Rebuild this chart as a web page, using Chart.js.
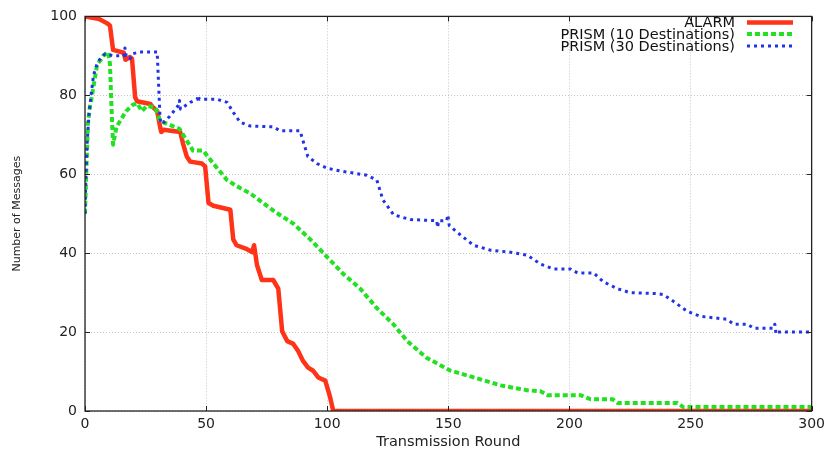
<!DOCTYPE html>
<html>
<head>
<meta charset="utf-8">
<script src="https://cdn.jsdelivr.net/npm/chart.js@4/dist/chart.umd.min.js"></script>
<style>
    body { margin: 0; background: #fff; }
    #wrap { width: 830px; height: 454px; }
</style>
</head>
<body>
<div id="wrap"><canvas id="msgChart" width="830" height="454"></canvas></div>
<script>
// ---------- DATA ----------
const xTicks = [0, 50, 100, 150, 200, 250, 300];
const yTicks = [0, 20, 40, 60, 80, 100];

const seriesNames = ["ALARM", "PRISM (10 Destinations)", "PRISM (30 Destinations)"];

const alarmX = [0, 6, 9, 10.3, 11.6, 16, 16.7, 18.6, 19.4, 20.7, 21.5, 27, 28, 29.8, 31, 31.5, 32.5, 39.3, 40.5, 42,
    43.4, 48.3, 49.6, 51, 53, 60, 61.2, 62.6, 66.9, 69, 69.8, 71, 73, 77.7, 79.8, 81.4, 83.5, 86, 88, 90,
    92.1, 94.2, 96.3, 99.2, 101.2, 102.5, 300];
const alarmY = [100, 99.3, 98.3, 97.7, 91.5, 90.8, 89, 89.7, 89.3, 79.5, 78.5, 77.8, 77, 76, 72, 70.7, 71.3, 70.7, 67.7, 64.5,
    63.2, 62.7, 62, 52.7, 52, 51, 43.5, 42, 41, 40.25, 42, 37, 33.2, 33.2, 31, 20.2, 17.7, 17, 15.2, 12.7,
    11, 10.2, 8.5, 7.7, 3.5, 0, 0];

const prism10X = [0, 0.5, 1.2, 2, 2.9, 4, 5, 6.5, 7.5, 9.5, 10.3, 11, 11.6, 13, 15, 17, 19.5, 21.5, 23.5, 25.5,
    29, 31, 35, 39, 41.5, 44.6, 48.8, 53, 58.7, 64, 68, 73.5, 79, 86, 93, 100, 106.6, 113.6, 120.6, 127.3,
    133, 141, 150.8, 162, 171.5, 182.6, 188, 191, 204.5, 208.7, 217.8, 220, 244.6, 247, 300];
const prism10Y = [50, 60, 72.75, 77, 80, 84, 87.75, 89, 90, 91, 88, 76, 67.5, 72, 74, 76, 77.5, 78, 76, 77.3,
    77, 73.5, 72.5, 71.5, 69, 66, 66, 62.7, 58.5, 56.5, 55.25, 52.75, 50.25, 47.5, 43.5, 39, 34.75, 31, 26, 22,
    17.75, 13.5, 10.25, 8.25, 6.5, 5.25, 5, 4, 4, 3, 3, 2, 2, 1, 1];

const prism30X = [0, 0.4, 0.9, 1.6, 2.5, 3.5, 5, 6.5, 8.3, 12, 16, 16.5, 17, 18.2, 18.6, 19.5, 22.7, 29.8, 31, 31.8,
    35, 38.6, 39, 39.4, 43.4, 46.3, 46.7, 47.2, 49.6, 54.5, 58.7, 61.2, 64, 68, 77.7, 80.6, 88.8, 90, 92, 95.8,
    100, 106.6, 116.4, 120.5, 123, 127.4, 134.3, 145.2, 145.6, 146, 149.3, 149.8, 150.4, 153.7, 160.4, 167.4, 175.6, 182.6, 188, 193.4,
    200.4, 203.3, 210, 214, 219.8, 225, 236, 238.8, 243, 248.7, 254, 265, 267.8, 273.5, 276, 284.3, 284.8, 285.3, 286, 300];
const prism30Y = [50, 60, 68, 75, 80, 85, 88, 89.5, 90.5, 90, 90, 92, 90, 89.8, 89.3, 90.5, 91, 91, 74, 72.7,
    74.7, 77.5, 78.7, 76.5, 78.2, 79, 80, 79, 79, 79, 78.2, 75.7, 73.2, 72.25, 72, 71, 71, 68.5, 64.5, 62.7,
    61.5, 60.7, 59.75, 58.5, 53.5, 49.75, 48.5, 48.25, 46.5, 48.2, 48.2, 49.7, 47, 45.25, 42, 40.75, 40.25, 39.5, 37.25, 36,
    36, 35, 35, 32.75, 31, 30, 29.75, 29.5, 27.75, 25.25, 24, 23.25, 22, 22, 21, 21, 22, 19.5, 20, 20];

const toPoints = (xs, ys) => xs.map((x, i) => ({ x: x, y: ys[i] }));

// ---------- FRAME + INWARD TICKS (gnuplot style border) ----------
const framePlugin = {
    id: "frame",
    afterDraw(chart) {
        const { ctx, chartArea: a, scales } = chart;
        ctx.save();
        ctx.strokeStyle = "#222";
        ctx.lineWidth = 1.3;
        ctx.strokeRect(a.left, a.top, a.right - a.left, a.bottom - a.top);
        ctx.lineWidth = 1;
        ctx.beginPath();
        xTicks.forEach(v => {
            const px = Math.round(scales.x.getPixelForValue(v)) + 0.5;
            ctx.moveTo(px, a.bottom); ctx.lineTo(px, a.bottom - 5);
            ctx.moveTo(px, a.top); ctx.lineTo(px, a.top + 5);
        });
        yTicks.forEach(v => {
            const py = Math.round(scales.y.getPixelForValue(v)) + 0.5;
            ctx.moveTo(a.left, py); ctx.lineTo(a.left + 5, py);
            ctx.moveTo(a.right, py); ctx.lineTo(a.right - 5, py);
        });
        ctx.stroke();
        ctx.restore();
    }
};

// ---------- LEGEND (text right-aligned, sample on the right) ----------
const keyPlugin = {
    id: "key",
    afterDraw(chart) {
        const ctx = chart.ctx;
        const textRight = 735, sampleL = 747, sampleR = 793;
        const rows = [22.5, 34, 46];
        ctx.save();
        ctx.font = "14.5px 'DejaVu Sans'";
        ctx.textAlign = "right";
        ctx.textBaseline = "middle";
        ctx.fillStyle = "#111";
        chart.data.datasets.forEach((ds, i) => {
            const yy = rows[i];
            ctx.fillText(ds.label, textRight, yy + 1);
            ctx.strokeStyle = ds.borderColor;
            ctx.lineWidth = ds.borderWidth;
            ctx.setLineDash(ds.borderDash || []);
            ctx.beginPath();
            ctx.moveTo(sampleL, yy);
            ctx.lineTo(sampleR, yy);
            ctx.stroke();
        });
        ctx.restore();
    }
};

// ---------- CHART ----------
new Chart(document.getElementById("msgChart"), {
    type: "line",
    data: {
        datasets: [
            {
                label: seriesNames[0],
                data: toPoints(alarmX, alarmY),
                borderColor: "#ff3318",
                borderWidth: 4.5,
                order: 3
            },
            {
                label: seriesNames[1],
                data: toPoints(prism10X, prism10Y),
                borderColor: "#22e022",
                borderWidth: 4,
                borderDash: [5, 3],
                order: 2
            },
            {
                label: seriesNames[2],
                data: toPoints(prism30X, prism30Y),
                borderColor: "#2233e6",
                borderWidth: 3,
                borderDash: [3, 4],
                order: 1
            }
        ]
    },
    options: {
        responsive: false,
        animation: false,
        events: [],
        elements: {
            point: { radius: 0 },
            line: { tension: 0, fill: false, borderJoinStyle: "round" }
        },
        layout: { padding: { top: 11, right: 18, left: 0, bottom: 0 } },
        plugins: {
            legend: { display: false },
            tooltip: { enabled: false }
        },
        scales: {
            x: {
                type: "linear",
                min: 0,
                max: 300,
                afterBuildTicks: s => { s.ticks = xTicks.map(v => ({ value: v })); },
                afterFit: s => { s.height = 43; },
                grid: { color: "#c4c4c4", lineWidth: 1, drawTicks: false },
                border: { display: false, dash: [1, 2] },
                ticks: {
                    padding: 5,
                    maxRotation: 0,
                    color: "#222",
                    font: { family: "DejaVu Sans", size: 14 }
                },
                title: {
                    display: true,
                    text: "Transmission Round",
                    color: "#222",
                    padding: { top: 0, bottom: 3 },
                    font: { family: "DejaVu Sans", size: 14.5 }
                }
            },
            y: {
                min: 0,
                max: 100,
                afterBuildTicks: s => { s.ticks = yTicks.map(v => ({ value: v })); },
                afterFit: s => { s.width = 85; },
                grid: { color: "#c4c4c4", lineWidth: 1, drawTicks: false },
                border: { display: false, dash: [1, 2] },
                ticks: {
                    padding: 8,
                    color: "#222",
                    font: { family: "DejaVu Sans", size: 14 }
                },
                title: {
                    display: true,
                    text: "Number of Messages",
                    color: "#222",
                    padding: { top: 11, bottom: 0 },
                    font: { family: "DejaVu Sans", size: 11 }
                }
            }
        }
    },
    plugins: [framePlugin, keyPlugin]
});
</script>
</body>
</html>
